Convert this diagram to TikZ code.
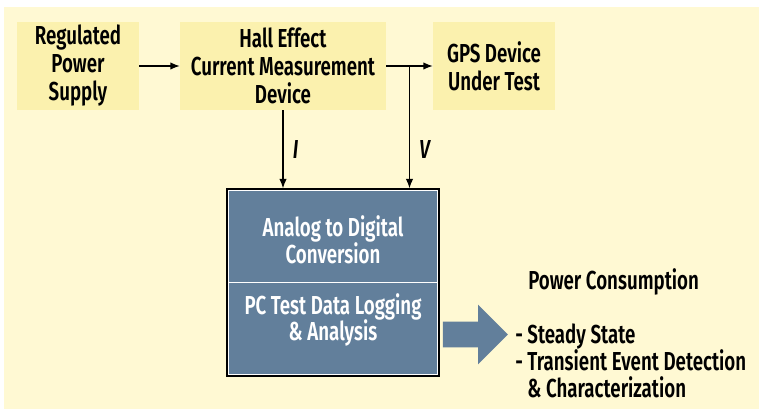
\documentclass[tikz,border=0pt]{standalone}
\usepackage{fontspec}
\setmainfont{Fira Sans}[FakeStretch=0.72,UprightFont=* SemiBold,ItalicFont=* SemiBold Italic]
\usetikzlibrary{arrows.meta,shapes.arrows,calc}
\definecolor{paper}{HTML}{FFF9D3}
\definecolor{boxfill}{HTML}{FBF1AE}
\definecolor{slate}{HTML}{627F9B}

\begin{document}
\begin{tikzpicture}[x=0.75pt,y=-0.75pt,
    txt/.style = {font=\fontsize{19.5}{21}\selectfont, inner sep=0pt},
    topbox/.style = {txt, fill=boxfill, align=center, minimum height=66pt},
    wire/.style = {line width=0.9pt, -{Latex[length=7pt,width=5.5pt]}},
    bluetxt/.style = {txt, text=white, align=center, font=\fontsize{19.5}{20}\selectfont}
  ]
  % page and background
  \useasboundingbox (0,0) rectangle (759,409);
  \fill[white] (0,0) rectangle (759,409);
  \fill[paper] (4,7) rectangle (759,409);

  % top row
  \node[topbox, minimum width=91.5pt] (psu) at (78,66) {Regulated\\Power\\Supply};
  \node[topbox, minimum width=154.5pt] (hall) at (283,66) {Hall Effect\\Current Measurement\\Device};
  \node[topbox, minimum width=91.5pt] (gps) at (494,66) {GPS Device\\Under Test};

  % acquisition box
  \node[draw=black, line width=1pt, fill=slate, minimum width=159pt, minimum height=140.25pt] (daq) at (333,282.5) {};
  \draw[white, line width=0.6pt] ([shift={(2.5,2.5)}]daq.north west) rectangle ([shift={(-2.5,-2.5)}]daq.south east);
  \draw[white, line width=1pt] ([xshift=1.9pt]daq.west) -- ([xshift=-1.9pt]daq.east);
  \node[bluetxt] (adc) at (333,240) {Analog to Digital\\Conversion};
  \node[bluetxt] (pclog) at (333,320) {PC Test Data Logging\\\& Analysis};

  % connectors
  \coordinate (tap) at ($(hall.east)!0.5!(gps.west)$);
  \draw[wire] (psu) -- (hall);
  \draw[wire] (hall) -- (gps);
  \draw[wire] (hall.south) -- (hall.south |- daq.north) node[midway, right=7pt, txt] {\textit{I}};
  \draw[wire] (tap) -- (tap |- daq.north) node[pos=0.68, right=7pt, txt] {\textit{V}};

  % output
  \node[single arrow, fill=slate, inner sep=0pt, inner ysep=9.4pt, minimum width=44.25pt,
        minimum height=48.75pt, single arrow head extend=12.75pt, anchor=west]
        (out) at ([shift={(3,52)}]daq.east) {};
  \node[txt, anchor=west] (pwr) at (528,282) {Power Consumption};
  \node[txt, anchor=west, align=left, font=\fontsize{19.5}{20.5}\selectfont] (items) at (515,361)
        {- Steady State\\- Transient Event Detection\\\hphantom{- }\& Characterization};
\end{tikzpicture}
\end{document}
